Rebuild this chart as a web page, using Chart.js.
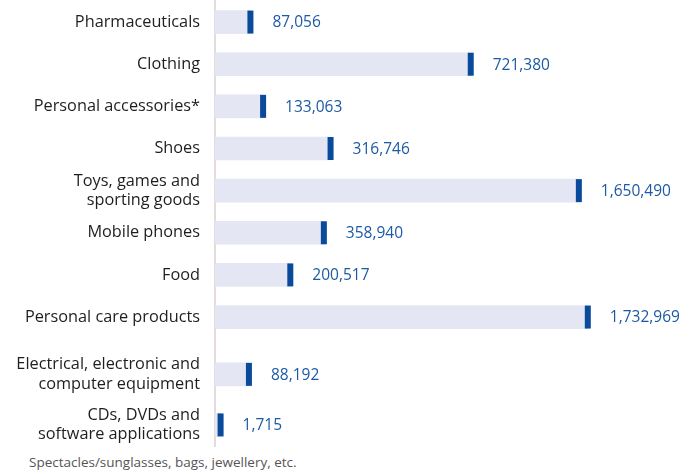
<!DOCTYPE html>
<html>
<head>
<meta charset="utf-8">
<script src="https://cdn.jsdelivr.net/npm/chart.js@4/dist/chart.umd.min.js"></script>
<style>
  html, body { margin: 0; padding: 0; background: #ffffff; }
  #wrap { position: relative; width: 689px; height: 474px; }
  #chartBox { position: absolute; left: 0; top: 0; width: 689px; height: 447px; }
  #note { position: absolute; left: 29px; top: 453px; font-family: "Open Sans", sans-serif; font-size: 13.5px; color: #555555; white-space: nowrap; }
</style>
</head>
<body>
<div id="wrap">
  <div id="chartBox"><canvas id="c"></canvas></div>
  <div id="note">Spectacles/sunglasses, bags, jewellery, etc.</div>
</div>
<script>
// Categories (multi-line labels as arrays)
const categories = [
  'Pharmaceuticals',
  'Clothing',
  'Personal accessories*',
  'Shoes',
  ['Toys, games and', 'sporting goods'],
  'Mobile phones',
  'Food',
  'Personal care products',
  ['Electrical, electronic and', 'computer equipment'],
  ['CDs, DVDs and', 'software applications']
];

// Bar length as drawn (relative index, Personal care products = 100)
const barIndex = [9.5, 68.6, 12.9, 31.0, 97.6, 29.2, 20.2, 100, 9.1, 1.5];

// Value labels shown next to each bar
const valueLabels = ['87,056', '721,380', '133,063', '316,746', '1,650,490',
                     '358,940', '200,517', '1,732,969', '88,192', '1,715'];

const FONT = '"Open Sans", sans-serif';

// Category scale whose rows may be spaced unevenly (relative spacing weights)
class SpacedCategoryScale extends Chart.CategoryScale {
  _rowPos() {
    const gaps = this.options.rowSpacing || [];
    const n = this.getLabels().length;
    const pos = [0];
    for (let i = 1; i < n; i++) pos.push(pos[i - 1] + (gaps[i - 1] ?? 1));
    return pos;
  }
  getPixelForValue(value) {
    if (typeof value !== 'number') value = this.parse(value);
    if (value === null || value === undefined || isNaN(value)) return NaN;
    const pos = this._rowPos();
    const total = pos[pos.length - 1] + 1;
    const i = Math.max(0, Math.min(pos.length - 1, Math.round(value)));
    const p = pos[i] + (value - i);
    return this.getPixelForDecimal((p + 0.5) / total);
  }
  afterFit() {
    super.afterFit && super.afterFit();
    this.width = 215;
    this.paddingTop = 0;
    this.paddingBottom = 0;
  }
}
SpacedCategoryScale.id = 'spacedCategory';
SpacedCategoryScale.defaults = Chart.CategoryScale.defaults;
Chart.register(SpacedCategoryScale);

const valueLabelPlugin = {
  id: 'valueLabels',
  afterDatasetsDraw(chart) {
    const meta = chart.getDatasetMeta(1);
    const ctx = chart.ctx;
    ctx.save();
    ctx.font = '15.5px ' + FONT;
    ctx.fillStyle = '#1d5aa5';
    ctx.textAlign = 'left';
    ctx.textBaseline = 'middle';
    meta.data.forEach((pt, i) => {
      ctx.fillText(valueLabels[i], pt.x + 22, pt.y + 1);
    });
    ctx.restore();
  }
};

new Chart(document.getElementById('c'), {
  type: 'bar',
  data: {
    labels: categories,
    datasets: [
      {
        label: 'bar',
        data: barIndex,
        backgroundColor: '#e4e6f3',
        barThickness: 23,
        order: 2
      },
      {
        type: 'line',
        label: 'marker',
        indexAxis: 'y',
        data: barIndex,
        showLine: false,
        pointStyle: 'line',
        rotation: 90,
        radius: 11.5,
        hoverRadius: 11.5,
        borderWidth: 6,
        hoverBorderWidth: 6,
        borderColor: '#0a4a9b',
        backgroundColor: '#0a4a9b',
        clip: false,
        order: 1
      }
    ]
  },
  options: {
    indexAxis: 'y',
    responsive: true,
    maintainAspectRatio: false,
    animation: false,
    events: [],
    layout: { autoPadding: false, padding: { left: 0, right: 8, top: 1, bottom: 1 } },
    plugins: {
      legend: { display: false },
      tooltip: { enabled: false }
    },
    scales: {
      x: {
        display: false,
        min: 0,
        max: 125
      },
      y: {
        type: 'spacedCategory',
        rowSpacing: [1, 1, 1, 1, 1, 1, 1, 1.36, 1.2],
        grid: { display: false, drawTicks: false },
        border: { display: true, color: '#e3dbdf', width: 2, dash: [2, 4] },
        ticks: {
          padding: 15,
          color: '#1e1e1e',
          font: { family: FONT, size: 16.3, lineHeight: 1.17 },
          autoSkip: false
        }
      }
    }
  },
  plugins: [valueLabelPlugin]
});
</script>
</body>
</html>
